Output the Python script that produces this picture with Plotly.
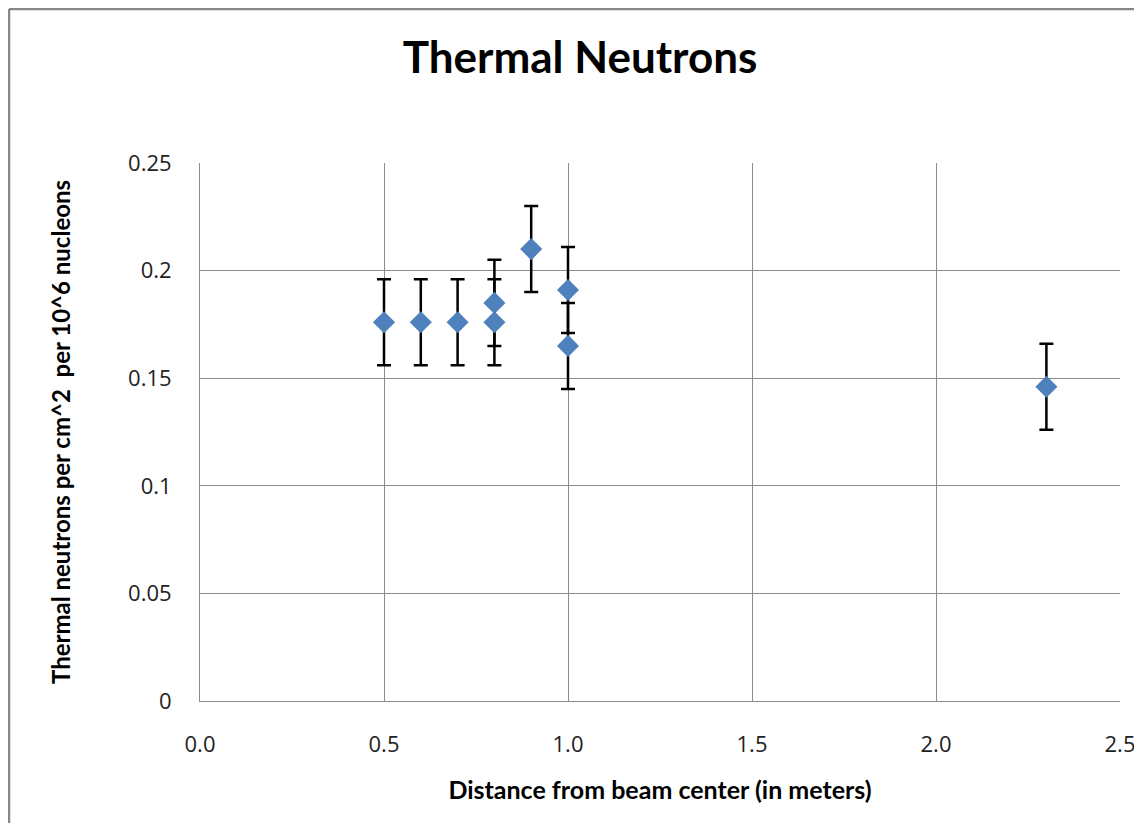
import plotly.graph_objects as go

distance_m = [0.5, 0.6, 0.7, 0.8, 0.8, 0.9, 1.0, 1.0, 2.3]
thermal_flux = [0.176, 0.176, 0.176, 0.185, 0.176, 0.210, 0.191, 0.165, 0.146]
flux_error = [0.020, 0.020, 0.020, 0.020, 0.020, 0.020, 0.020, 0.020, 0.020]

x_tickvals = [0.0, 0.5, 1.0, 1.5, 2.0, 2.5]
y_tickvals = [0, 0.05, 0.1, 0.15, 0.2, 0.25]
y_ticktext = ["0", "0.05", "0.1", "0.15", "0.2", "0.25"]

BOLD = "Lato, 'Open Sans', sans-serif"
TICK = "'Open Sans', Lato, sans-serif"

W, H = 1126, 815
L, R, T, B = 192, 14, 155, 122
PW, PH = W - L - R, H - T - B

fig = go.Figure()
fig.add_trace(go.Scatter(
    x=distance_m, y=thermal_flux, mode="markers",
    marker=dict(symbol="diamond", size=17, color="#4F81BD"),
    error_y=dict(type="data", array=flux_error, visible=True,
                 color="black", thickness=2.5, width=7),
    showlegend=False,
))

fig.update_layout(
    width=W, height=H,
    paper_bgcolor="white", plot_bgcolor="white",
    margin=dict(l=L, r=R, t=T, b=B, autoexpand=False),
    title=dict(text="<b>Thermal Neutrons</b>", x=572 / W, xanchor="center",
               y=1 - 50 / H, yanchor="middle",
               font=dict(family=BOLD, size=44, color="black")),
    font=dict(family=TICK, color="black"),
)
fig.update_xaxes(
    range=[0, 2.5], tickvals=x_tickvals, tickformat=".1f",
    showgrid=True, gridcolor="#8c8c8c", gridwidth=1,
    showline=True, linecolor="#8c8c8c", linewidth=1, mirror=False,
    zeroline=False, ticks="", ticklabelstandoff=24, ticklabeloverflow="allow",
    automargin=False,
    tickfont=dict(family=TICK, size=22, color="#222"),
    title=dict(text="<b>Distance from beam center (in meters)</b>", standoff=24,
               font=dict(family=BOLD, size=25, color="black")),
)
fig.update_yaxes(
    range=[0, 0.25], tickvals=y_tickvals, ticktext=y_ticktext,
    showgrid=True, gridcolor="#8c8c8c", gridwidth=1,
    showline=True, linecolor="#8c8c8c", linewidth=1,
    zeroline=False, ticks="", ticklabelstandoff=23,
    automargin=False,
    tickfont=dict(family=TICK, size=22, color="#222"),
    title=dict(text="<b>Thermal neutrons per cm^2  per 10^6 nucleons</b>", standoff=50,
               font=dict(family=BOLD, size=24, color="black")),
)
x_left = (1 - L) / PW
x_right = (W - L) / PW
y_top = 1 + (T - 1) / PH
y_bottom = -B / PH
border = dict(color="#868686", width=2.5)
fig.add_shape(type="line", xref="paper", yref="paper",
              x0=x_left, x1=x_left, y0=y_bottom, y1=y_top, line=border, layer="below")
fig.add_shape(type="line", xref="paper", yref="paper",
              x0=x_left, x1=x_right, y0=y_top, y1=y_top, line=border, layer="below")

fig.write_html("out.html")
